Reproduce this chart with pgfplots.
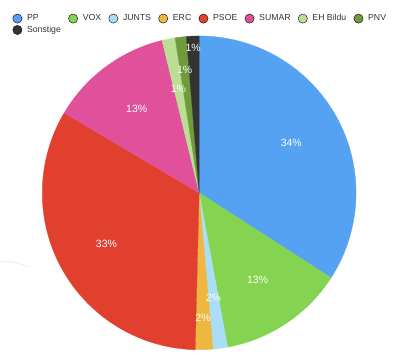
\documentclass[border=0pt]{standalone}
\usepackage{fontspec}
\setmainfont{Liberation Sans}
\usepackage{pgfplots}
\pgfplotsset{compat=1.18}
\definecolor{ppc}{HTML}{55A2F3}
\definecolor{voxc}{HTML}{84D452}
\definecolor{juntsc}{HTML}{AADDF6}
\definecolor{ercc}{HTML}{EDB740}
\definecolor{psoec}{HTML}{E2402F}
\definecolor{sumarc}{HTML}{E1519B}
\definecolor{bilduc}{HTML}{BBDE95}
\definecolor{pnvc}{HTML}{6F9B3D}
\definecolor{sonstc}{HTML}{333333}
\definecolor{legtext}{HTML}{333333}
% #1 cumulative share before the slice, #2 share, #3 colour
\newcommand{\pieslice}[3]{%
  \fill[#3, draw=#3, line width=0.3bp] (axis cs:199,170) -- ++({90-3.6*(#1)}:157bp)
    arc[start angle={90-3.6*(#1)}, delta angle={-3.6*(#2)}, radius=157bp] -- cycle;}
% #1 cumulative share before, #2 share, #3 label radius, #4 text
\newcommand{\pielabel}[4]{%
  \path (axis cs:199,170) ++({90-3.6*((#1)+(#2)/2)}:#3bp)
    node[text=white, font=\fontsize{10.5bp}{12bp}\selectfont, inner sep=0pt] {#4};}
\begin{document}
\begin{tikzpicture}
\begin{axis}[
  width=414bp, height=363bp, scale only axis,
  xmin=0, xmax=414, ymin=0, ymax=363,
  hide axis, clip=false,
  legend columns=8,
  legend cell align=left,
  legend image code/.code={\fill[#1] (0bp,0bp) circle (4.6bp);},
  legend style={draw=none, fill=none, at={(axis cs:12.3,349.5)}, anchor=north west,
    font=\fontsize{8.7bp}{10bp}\selectfont, text=legtext,
    inner sep=0pt, outer sep=0pt, row sep=1.2bp,
    nodes={inner sep=1.2bp},
    /tikz/every odd column/.append style={column sep=3.7bp},
    /tikz/every even column/.append style={column sep=6.2bp}},
]
\path (axis cs:0,0) rectangle (axis cs:414,363);
\addlegendimage{fill=ppc}\addlegendentry{PP}
\addlegendimage{fill=voxc}\addlegendentry{VOX}
\addlegendimage{fill=juntsc}\addlegendentry{JUNTS}
\addlegendimage{fill=ercc}\addlegendentry{ERC}
\addlegendimage{fill=psoec}\addlegendentry{PSOE}
\addlegendimage{fill=sumarc}\addlegendentry{SUMAR}
\addlegendimage{fill=bilduc}\addlegendentry{EH Bildu}
\addlegendimage{fill=pnvc}\addlegendentry{PNV}
\addlegendimage{fill=sonstc}\addlegendentry{Sonstige}

% shares (percent): PP 34.1, VOX 13.0, JUNTS 1.5, ERC 1.8, PSOE 33.1,
% SUMAR 12.7, EH Bildu 1.35, PNV 1.15, Sonstige 1.3
\pieslice{0}{34.1}{ppc}
\pieslice{34.1}{13.0}{voxc}
\pieslice{47.1}{1.5}{juntsc}
\pieslice{48.6}{1.8}{ercc}
\pieslice{50.4}{33.1}{psoec}
\pieslice{83.5}{12.7}{sumarc}
\pieslice{96.2}{1.35}{bilduc}
\pieslice{97.55}{1.15}{pnvc}
\pieslice{98.7}{1.3}{sonstc}

\pielabel{0}{34.1}{105}{34\%}
\pielabel{34.1}{13.0}{105}{13\%}
\pielabel{47.1}{1.5}{106}{2\%}
\pielabel{48.6}{1.8}{125}{2\%}
\pielabel{50.4}{33.1}{106}{33\%}
\pielabel{83.5}{12.7}{105}{13\%}
\pielabel{96.2}{1.35}{106}{1\%}
\pielabel{97.55}{1.15}{124}{1\%}
\pielabel{98.7}{1.3}{145}{1\%}

\draw[gray!22, line width=0.6bp] (axis cs:0,101) .. controls (axis cs:12,101.5) and (axis cs:21,99.5) .. (axis cs:27,96);
\end{axis}
\end{tikzpicture}
\end{document}
